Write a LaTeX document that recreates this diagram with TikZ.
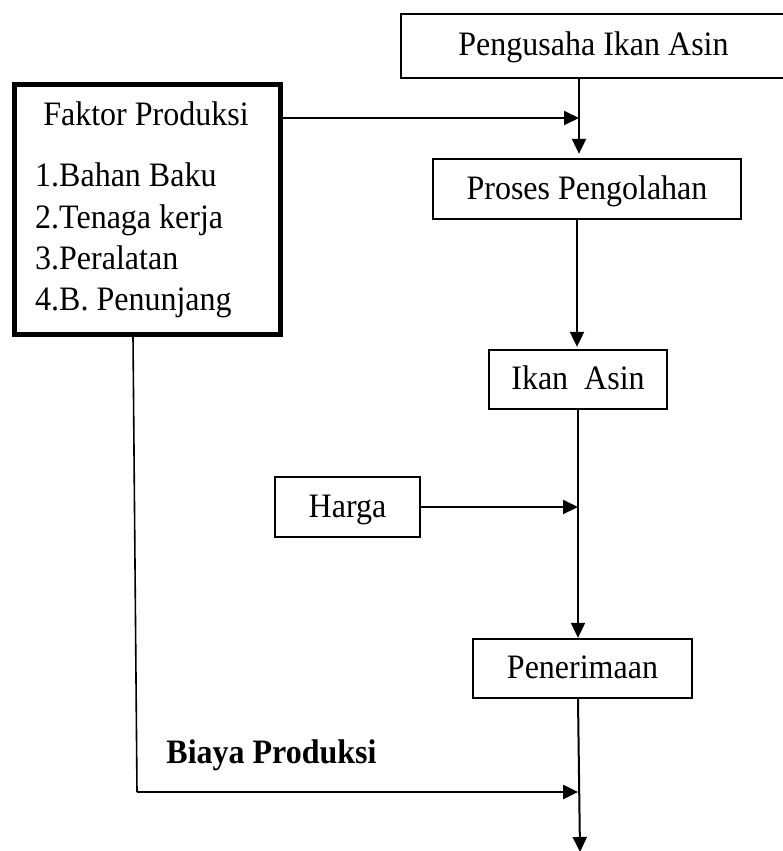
\documentclass[tikz,border=0pt]{standalone}
\usepackage{fontspec}
\usepackage{graphicx}
\setmainfont{Liberation Serif}
\usetikzlibrary{arrows.meta}
\newcommand{\tallt}[1]{\scalebox{1}[1.07]{#1}}
\begin{document}
\begin{tikzpicture}[x=1pt,y=-1pt,
  every node/.style={font=\fontsize{32}{38}\selectfont, inner sep=0pt},
  box/.style={draw, line width=2.3pt, rectangle, text height=24pt, text depth=4pt},
  thickbox/.style={draw, line width=5pt, rectangle},
  txt/.style={anchor=base west},
  arr/.style={line width=2pt, -{Triangle[length=15pt,width=14pt]}}]
\useasboundingbox (0,0) rectangle (783,851);
% boxes
\node[box, minimum width=385pt, minimum height=64pt] (peng) at (593.5,46) {\tallt{Pengusaha Ikan Asin}};
\node[thickbox, minimum width=266pt, minimum height=250pt] (fak) at (147.5,209) {};
\node[anchor=base] (fakt) at (146,125) {\tallt{Faktor Produksi}};
\node[txt] (l1) at (35,186) {\tallt{1.Bahan Baku}};
\node[txt] (l2) at (35,228) {\tallt{2.Tenaga kerja}};
\node[txt] (l3) at (35,269) {\tallt{3.Peralatan}};
\node[txt] (l4) at (35,310) {\tallt{4.B. Penunjang}};
\node[box, minimum width=308pt, minimum height=60pt] (proses) at (587,189) {\tallt{Proses Pengolahan}};
\node[box, minimum width=178pt, minimum height=59pt] (ikan) at (578,379.5) {\tallt{Ikan\ \ Asin}};
\node[box, minimum width=145pt, minimum height=60pt] (harga) at (347.5,507) {\tallt{Harga}};
\node[box, minimum width=219pt, minimum height=59pt] (pener) at (582.5,668.5) {\tallt{Penerimaan}};
\node[anchor=base, font=\fontsize{32}{38}\selectfont\bfseries] (biaya) at (271.5,763) {\tallt{Biaya Produksi}};
% junction coordinates
\coordinate (j1) at (579,118);
\coordinate (j2) at (578,507);
\coordinate (j3) at (578,792);
\coordinate (c1) at (137,792);
\coordinate (c0) at (133,0);
\coordinate (endp) at (580,852);
% connectors
\draw[arr] (peng.south -| j1) -- ([yshift=4pt]proses.north -| j1);
\draw[arr] (fak.east |- j1) -- (j1);
\draw[arr] (proses.south -| 577,0) -- ([yshift=2pt]ikan.north -| 577,0);
\draw[arr] (ikan.south -| j2) -- (pener.north -| j2);
\draw[arr] (harga.east |- j2) -- (j2);
\draw[arr] (pener.south -| j3) -- (endp);
\draw[line width=1.6pt] (fak.south -| c0) -- (c1);
\draw[arr, line width=2.6pt] (c1) -- (j3);
\end{tikzpicture}
\end{document}
